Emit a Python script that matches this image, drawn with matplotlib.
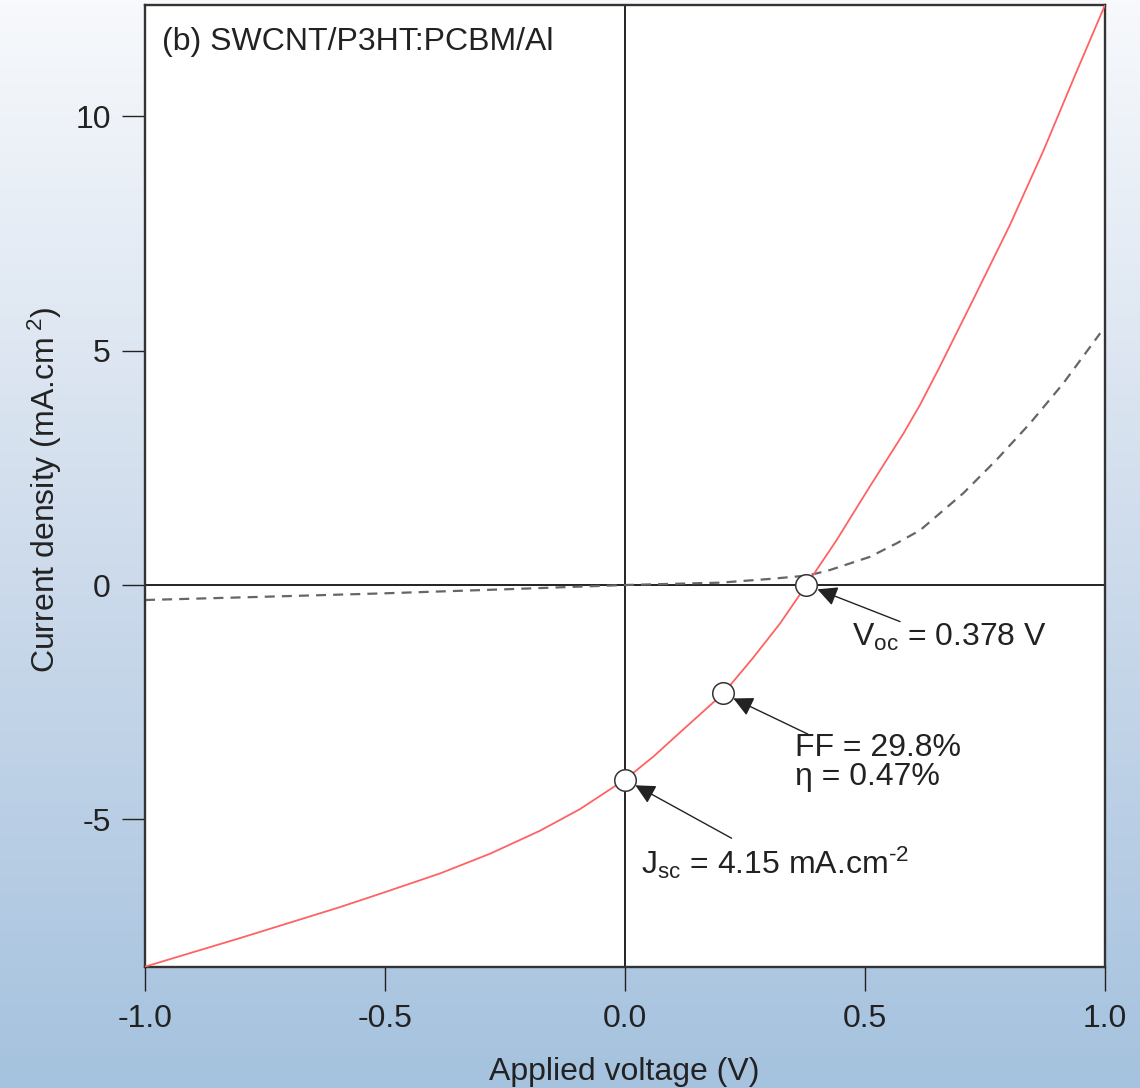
import numpy as np
import matplotlib
matplotlib.use('Agg')
import matplotlib.pyplot as plt
from matplotlib.colors import LinearSegmentedColormap


plt.rcParams['font.family'] = ['Liberation Sans', 'DejaVu Sans']
plt.rcParams['mathtext.fontset'] = 'custom'
plt.rcParams['mathtext.rm'] = 'Liberation Sans'
plt.rcParams['mathtext.it'] = 'Liberation Sans:italic'
plt.rcParams['axes.unicode_minus'] = False


# illuminated J-V curve (red)
v_light = [-1.0, -0.906, -0.802, -0.698, -0.594, -0.5, -0.385, -0.281, -0.177, -0.094,
           -0.024, 0.0, 0.059, 0.128, 0.205, 0.267, 0.323, 0.378, 0.441, 0.51, 0.58,
           0.615, 0.653, 0.726, 0.802, 0.872, 0.9375, 1.0]
j_light = [-8.14, -7.85, -7.53, -7.2, -6.87, -6.55, -6.15, -5.73, -5.24, -4.78,
           -4.31, -4.15, -3.66, -3.02, -2.31, -1.55, -0.82, 0.0, 0.96, 2.1, 3.23,
           3.85, 4.6, 6.1, 7.68, 9.27, 10.87, 12.37]

# dark curve (dashed)
v_dark = [-1.0, -0.75, -0.51, -0.246, 0.0, 0.198, 0.302, 0.378, 0.4, 0.427, 0.51,
          0.566, 0.615, 0.705, 0.774, 0.844, 0.913, 0.99]
j_dark = [-0.32, -0.25, -0.18, -0.09, 0.0, 0.05, 0.13, 0.2, 0.25, 0.32, 0.6,
          0.89, 1.17, 1.96, 2.67, 3.45, 4.3, 5.37]

# marked points: Jsc, max power point, Voc
v_marks = [0.0, 0.2035, 0.378]
j_marks = [-4.15, -2.31, 0.0]

x_ticks = [-1.0, -0.5, 0.0, 0.5, 1.0]
x_ticklabels = ['-1.0', '-0.5', '0.0', '0.5', '1.0']
y_ticks = [-5, 0, 5, 10]
y_ticklabels = ['-5', '0', '5', '10']

fs = 23

fig = plt.figure(figsize=(11.4, 10.88), dpi=100)

# background gradient
bg = fig.add_axes([0, 0, 1, 1], zorder=-10)
cmap = LinearSegmentedColormap.from_list('bg', [(0.0, '#a5c2de'), (0.5, '#cfdcec'), (1.0, '#f7f9fc')])
grad = np.linspace(0, 1, 256).reshape(-1, 1)
bg.imshow(grad, aspect='auto', extent=[0, 1, 0, 1], origin='lower', cmap=cmap)
bg.axis('off')

ax = fig.add_axes([0.1272, 0.1115, 0.8421, 0.8839])
ax.set_facecolor('white')

ax.axhline(0, color='#222222', lw=1.4, zorder=1)
ax.axvline(0, color='#222222', lw=1.4, zorder=1)

ax.plot(v_dark, j_dark, linestyle=(0, (4.5, 3.2)), color='#666666', lw=1.6, zorder=2)
ax.plot(v_light, j_light, color='#ff6262', lw=1.3, zorder=3)
ax.plot(v_marks, j_marks, 'o', markersize=15.5, markerfacecolor='white',
        markeredgecolor='#333333', markeredgewidth=1.1, zorder=5, clip_on=False)

ax.set_xlim(-1.0, 1.0)
ax.set_ylim(-8.14, 12.37)
ax.set_xticks(x_ticks)
ax.set_xticklabels(x_ticklabels)
ax.set_yticks(y_ticks)
ax.set_yticklabels(y_ticklabels)
ax.tick_params(axis='x', direction='out', length=17, width=1.0, pad=10, labelsize=fs, colors='#222222')
ax.tick_params(axis='y', direction='out', length=16.5, width=1.0, pad=8, labelsize=fs, colors='#222222')
for s in ax.spines.values():
    s.set_color('#333333')
    s.set_linewidth(1.7)

arrow = dict(arrowstyle='-|>', color='#222222', lw=1.0, mutation_scale=30,
             shrinkA=0, shrinkB=8.5)
ax.annotate('', xy=(v_marks[2], j_marks[2]), xytext=(0.573, -0.78), arrowprops=arrow, zorder=4)
ax.annotate('', xy=(v_marks[1], j_marks[1]), xytext=(0.381, -3.18), arrowprops=arrow, zorder=4)
ax.annotate('', xy=(v_marks[0], j_marks[0]), xytext=(0.222, -5.40), arrowprops=arrow, zorder=4)

ax.text(0.473, -1.11, r'V$_{\mathrm{oc}}$ = 0.378 V', fontsize=fs, va='center', color='#222222')
ax.text(0.354, -3.48, 'FF = 29.8%', fontsize=fs, va='center', color='#222222')
ax.text(0.354, -4.10, 'η = 0.47%', fontsize=fs, va='center', color='#222222')
ax.text(0.033, -5.92, 'J$_{\\mathrm{sc}}$ = 4.15 mA.cm$^{\u2010 2}$', fontsize=fs,
        va='center', color='#222222')

ax.text(0.018, 0.962, '(b) SWCNT/P3HT:PCBM/Al', transform=ax.transAxes, fontsize=fs,
        va='center', color='#222222')

fig.text(0.548, 0.0147, 'Applied voltage (V)', fontsize=fs, ha='center', va='center', color='#222222')
fig.text(0.0395, 0.55, r'Current density (mA.cm$^{\ 2}$)', fontsize=fs, rotation=90,
         ha='center', va='center', color='#222222')

fig.savefig('out.png', dpi=100)
